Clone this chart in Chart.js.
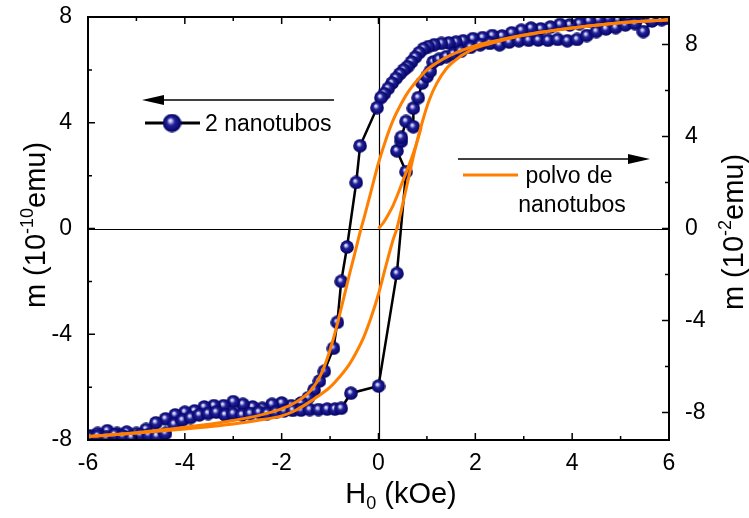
<!DOCTYPE html>
<html><head><meta charset="utf-8">
<script src="https://cdn.jsdelivr.net/npm/chart.js@4/dist/chart.umd.min.js"></script>
<style>html,body{margin:0;padding:0;background:#fff}#wrap{width:749px;height:518px;position:relative}</style>
</head><body><div id="wrap"><canvas id="c" width="749" height="518"></canvas></div>
<script>
// ---- tick values ----
const xTicks = [-6, -4, -2, 0, 2, 4, 6];
const xMinor = [-5, -3, -1, 1, 3, 5];
const leftTicks = [-8, -4, 0, 4, 8];
const leftMinor = [-6, -2, 2, 6];
const rightTicks = [-8, -4, 0, 4, 8];
const rightMinor = [-6, -2, 2, 6];

// ---- 2 nanotubos (left axis, 1e-10 emu): descending branch ----
const downH = [5.95,5.75,5.55,5.35,5.15,4.95,4.75,4.55,4.35,4.15,3.95,3.75,3.55,3.35,3.15,2.95,2.75,2.55,2.35,2.15,1.95,1.75,1.6,1.45,1.3,1.15,1.03,0.93,0.84,0.76,0.68,0.6,0.52,0.44,0.36,0.28,0.2,0.12,0.05,-0.03,-0.38,-0.46,-0.65,-0.77,-0.85,-0.93,-1.12,-1.22,-1.33,-1.45,-1.6,-1.8,-2.0,-2.2,-2.4,-2.6,-2.8,-3.0,-3.2,-3.4,-3.6,-3.8,-4.0,-4.2,-4.4,-4.6,-4.8,-5.0,-5.2,-5.4,-5.6,-5.8,-5.95];
const downM = [8.0,7.95,8.0,7.95,7.97,7.9,7.95,7.9,7.85,7.75,7.7,7.72,7.62,7.55,7.58,7.5,7.4,7.28,7.3,7.22,7.18,7.1,7.05,7.02,7.0,6.95,6.88,6.8,6.65,6.48,6.3,6.12,6.0,5.85,5.68,5.5,5.3,5.1,4.95,4.57,3.13,1.74,-0.7,-2.0,-3.55,-4.53,-5.4,-5.77,-6.1,-6.4,-6.6,-6.7,-6.6,-6.65,-6.8,-6.75,-6.65,-6.55,-6.7,-6.7,-6.75,-6.9,-6.95,-7.05,-7.2,-7.35,-7.6,-7.75,-7.7,-7.75,-7.65,-7.75,-7.85];
// ---- 2 nanotubos: ascending branch ----
const upH = [-5.97,-5.8,-5.62,-5.45,-5.28,-5.1,-4.92,-4.75,-4.58,-4.4,-4.22,-4.05,-3.88,-3.7,-3.52,-3.35,-3.17,-3.0,-2.82,-2.65,-2.47,-2.3,-2.12,-1.95,-1.77,-1.6,-1.42,-1.24,-1.06,-0.9,-0.77,-0.57,0.0,0.38,0.57,0.38,0.47,0.47,0.57,0.72,0.72,0.82,0.9,1.0,1.07,1.13,1.25,1.4,1.55,1.7,1.9,2.1,2.3,2.5,2.7,2.9,3.1,3.3,3.5,3.7,3.9,4.1,4.3,4.5,4.7,4.9,5.1,5.3,5.47,5.65,5.85,5.97];
const upM = [-7.9,-7.85,-7.9,-7.8,-7.85,-7.9,-7.8,-7.8,-7.85,-7.75,-7.4,-7.25,-7.15,-7.05,-7.0,-6.95,-7.05,-7.0,-7.05,-7.0,-6.95,-7.0,-6.95,-6.9,-6.88,-6.87,-6.85,-6.85,-6.83,-6.83,-6.8,-6.23,-5.96,-1.7,2.15,2.94,3.3,3.45,4.05,3.85,4.55,4.95,5.5,5.75,5.95,6.3,6.4,6.5,6.6,6.7,6.85,6.95,7.0,6.95,7.05,7.1,7.12,7.13,7.12,7.15,7.1,7.15,7.3,7.45,7.55,7.6,7.7,7.75,7.45,7.85,7.9,7.95];

// ---- polvo de nanotubos (right axis, 1e-2 emu) ----
const powderDownH = [6,5,4,3,2.5,2,1.5,1.2,1,0.8,0.6,0.45,0.3,0.15,0,-0.15,-0.3,-0.36,-0.45,-0.6,-0.75,-0.9,-1.05,-1.2,-1.4,-1.7,-2,-2.5,-3,-4,-5,-6];
const powderDownM = [9.08,8.95,8.72,8.42,8.2,7.95,7.55,7.2,6.9,6.45,5.9,5.35,4.7,3.85,2.85,1.65,0.45,0,-0.75,-2.0,-3.3,-4.55,-5.6,-6.4,-7.05,-7.55,-7.85,-8.15,-8.35,-8.65,-8.88,-9.05];
const powderUpH = [-6,-5,-4,-3,-2.5,-2,-1.75,-1.5,-1.25,-1.0,-0.8,-0.6,-0.45,-0.3,-0.15,0,0.15,0.3,0.38,0.45,0.6,0.75,0.9,1.05,1.2,1.4,1.7,2,2.5,3,4,5,6];
const powderUpM = [-9.05,-8.9,-8.72,-8.5,-8.35,-8.15,-7.95,-7.65,-7.3,-6.9,-6.45,-5.9,-5.35,-4.7,-3.85,-2.85,-1.65,-0.5,0,0.6,2.0,3.4,4.6,5.6,6.3,6.95,7.5,7.85,8.15,8.4,8.72,8.95,9.08];
const powderInitH = [0,0.1,0.2,0.3,0.4,0.5,0.6,0.7,0.8,0.88];
const powderInitM = [0,0.25,0.6,1.0,1.5,2.05,2.6,3.15,3.8,4.4];

const FONT = '"Liberation Sans", Arial, Helvetica, sans-serif';

function sphere(d) {
  const c = document.createElement('canvas');
  c.width = c.height = d;
  const g = c.getContext('2d');
  const r = d / 2;
  const grd = g.createRadialGradient(r * 0.8, r * 0.72, 0, r, r, r);
  grd.addColorStop(0, '#ffffff');
  grd.addColorStop(0.16, '#c0c0f0');
  grd.addColorStop(0.42, '#22229a');
  grd.addColorStop(1, '#000060');
  g.fillStyle = grd;
  g.beginPath(); g.arc(r, r, r - 0.2, 0, Math.PI * 2); g.fill();
  return c;
}
const ball = sphere(14);
const bigBall = sphere(19);

const zip = (xs, ys) => xs.map((x, i) => ({ x, y: ys[i] }));
const blueData = zip(downH, downM).concat(zip(upH, upM));

function drawRich(ctx, parts, x, y, center) {
  let w = 0;
  parts.forEach(p => { ctx.font = p.s + 'px ' + FONT; w += ctx.measureText(p.t).width; });
  let cx = center ? x - w / 2 : x;
  parts.forEach(p => {
    ctx.font = p.s + 'px ' + FONT;
    ctx.fillText(p.t, cx, y + (p.dy || 0));
    cx += ctx.measureText(p.t).width;
  });
}

const decor = {
  id: 'decor',
  beforeDatasetsDraw(chart) {
    const { ctx, chartArea: a, scales } = chart;
    ctx.save();
    ctx.strokeStyle = '#000'; ctx.lineWidth = 1.2;
    const x0 = Math.round(scales.x.getPixelForValue(0)) + 0.5;
    const y0 = Math.round(scales.y.getPixelForValue(0)) + 0.5;
    ctx.beginPath();
    ctx.moveTo(x0, a.top); ctx.lineTo(x0, a.bottom);
    ctx.moveTo(a.left, y0); ctx.lineTo(a.right, y0);
    ctx.stroke();
    ctx.restore();
  },
  afterDraw(chart) {
    const { ctx, chartArea: a, scales } = chart;
    ctx.save();
    ctx.strokeStyle = '#000'; ctx.lineWidth = 2;
    ctx.strokeRect(a.left, a.top, a.right - a.left, a.bottom - a.top);
    ctx.lineWidth = 1.5;
    ctx.beginPath();
    const tick = (vals, len, fn) => vals.forEach(v => fn(v, len));
    const xs = (v, len) => { const p = scales.x.getPixelForValue(v);
      ctx.moveTo(p, a.bottom); ctx.lineTo(p, a.bottom - len);
      ctx.moveTo(p, a.top); ctx.lineTo(p, a.top + len); };
    const yl = (v, len) => { const p = scales.y.getPixelForValue(v);
      ctx.moveTo(a.left, p); ctx.lineTo(a.left + len, p); };
    const yr = (v, len) => { const p = scales.y2.getPixelForValue(v);
      ctx.moveTo(a.right, p); ctx.lineTo(a.right - len, p); };
    tick(xTicks, 7, xs); tick(xMinor, 4, xs);
    tick(leftTicks, 7, yl); tick(leftMinor, 4, yl);
    tick(rightTicks, 7, yr); tick(rightMinor, 4, yr);
    ctx.stroke();

    // axis titles
    ctx.fillStyle = '#000';
    ctx.textBaseline = 'alphabetic';
    drawRich(ctx, [{ t: 'H', s: 29 }, { t: '0', s: 18, dy: 6 }, { t: ' (kOe)', s: 29 }], 401, 503, true);
    ctx.save();
    ctx.translate(45, 225); ctx.rotate(-Math.PI / 2);
    drawRich(ctx, [{ t: 'm (10', s: 29 }, { t: '-10', s: 18, dy: -12 }, { t: 'emu)', s: 29 }], 0, 0, true);
    ctx.restore();
    ctx.save();
    ctx.translate(743, 232); ctx.rotate(-Math.PI / 2);
    drawRich(ctx, [{ t: 'm (10', s: 29 }, { t: '-2', s: 18, dy: -12 }, { t: 'emu)', s: 29 }], 0, 0, true);
    ctx.restore();

    // legend 1: arrow to the left
    ctx.lineWidth = 1.5;
    ctx.beginPath(); ctx.moveTo(334, 100); ctx.lineTo(160, 100); ctx.stroke();
    ctx.beginPath(); ctx.moveTo(142, 100); ctx.lineTo(164, 95); ctx.lineTo(164, 105); ctx.closePath(); ctx.fill();
    ctx.lineWidth = 3;
    ctx.beginPath(); ctx.moveTo(145, 123); ctx.lineTo(200, 123); ctx.stroke();
    ctx.drawImage(bigBall, 172 - 9.5, 123 - 9.5);
    ctx.font = '23px ' + FONT;
    ctx.textAlign = 'left';
    ctx.fillText('2 nanotubos', 205, 131);

    // legend 2: arrow to the right
    ctx.lineWidth = 1.5;
    ctx.beginPath(); ctx.moveTo(458, 159); ctx.lineTo(632, 159); ctx.stroke();
    ctx.beginPath(); ctx.moveTo(650, 159); ctx.lineTo(628, 154); ctx.lineTo(628, 164); ctx.closePath(); ctx.fill();
    ctx.strokeStyle = '#ff7f00'; ctx.lineWidth = 3;
    ctx.beginPath(); ctx.moveTo(463, 175); ctx.lineTo(518, 175); ctx.stroke();
    ctx.textAlign = 'center';
    ctx.fillText('polvo de', 569, 183);
    ctx.fillText('nanotubos', 572, 212);
    ctx.restore();
  }
};

const tickFont = { family: FONT, size: 23 };
const noPadV = s => { s.paddingTop = 0; s.paddingBottom = 0; };
new Chart(document.getElementById('c'), {
  type: 'scatter',
  data: {
    datasets: [
      { label: 'polvo desc', data: zip(powderDownH, powderDownM), yAxisID: 'y2', showLine: true,
        borderColor: '#ff7f00', borderWidth: 3, pointRadius: 0, cubicInterpolationMode: 'monotone', order: 0 },
      { label: 'polvo asc', data: zip(powderUpH, powderUpM), yAxisID: 'y2', showLine: true,
        borderColor: '#ff7f00', borderWidth: 3, pointRadius: 0, cubicInterpolationMode: 'monotone', order: 0 },
      { label: 'polvo init', data: zip(powderInitH, powderInitM), yAxisID: 'y2', showLine: true,
        borderColor: '#ff7f00', borderWidth: 3, pointRadius: 0, cubicInterpolationMode: 'monotone', order: 0 },
      { label: '2 nanotubos', data: blueData, yAxisID: 'y', showLine: true,
        borderColor: '#000', borderWidth: 2.5, pointStyle: ball, pointRadius: 7, order: 1 }
    ]
  },
  options: {
    responsive: false, animation: false, devicePixelRatio: 1,
    layout: { padding: { top: 17, left: 0, right: 0, bottom: 0 } },
    plugins: { legend: { display: false }, tooltip: { enabled: false } },
    scales: {
      x: { type: 'linear', position: 'bottom', min: -6, max: 6,
        afterBuildTicks: s => { s.ticks = xTicks.map(v => ({ value: v })); },
        afterFit: s => { s.height = 78; s.paddingLeft = 0; s.paddingRight = 0; },
        ticks: { font: tickFont, color: '#000', padding: 2, maxRotation: 0 },
        grid: { display: false }, border: { display: false } },
      y: { type: 'linear', position: 'left', min: -8, max: 8,
        afterBuildTicks: s => { s.ticks = leftTicks.map(v => ({ value: v })); },
        afterFit: s => { s.width = 88; noPadV(s); },
        ticks: { font: tickFont, color: '#000', padding: 8 },
        grid: { display: false }, border: { display: false } },
      y2: { type: 'linear', position: 'right', min: -9.2, max: 9.2,
        afterBuildTicks: s => { s.ticks = rightTicks.map(v => ({ value: v })); },
        afterFit: s => { s.width = 80; noPadV(s); },
        ticks: { font: tickFont, color: '#000', padding: 8 },
        grid: { display: false }, border: { display: false } }
    }
  },
  plugins: [decor]
});
</script></body></html>
